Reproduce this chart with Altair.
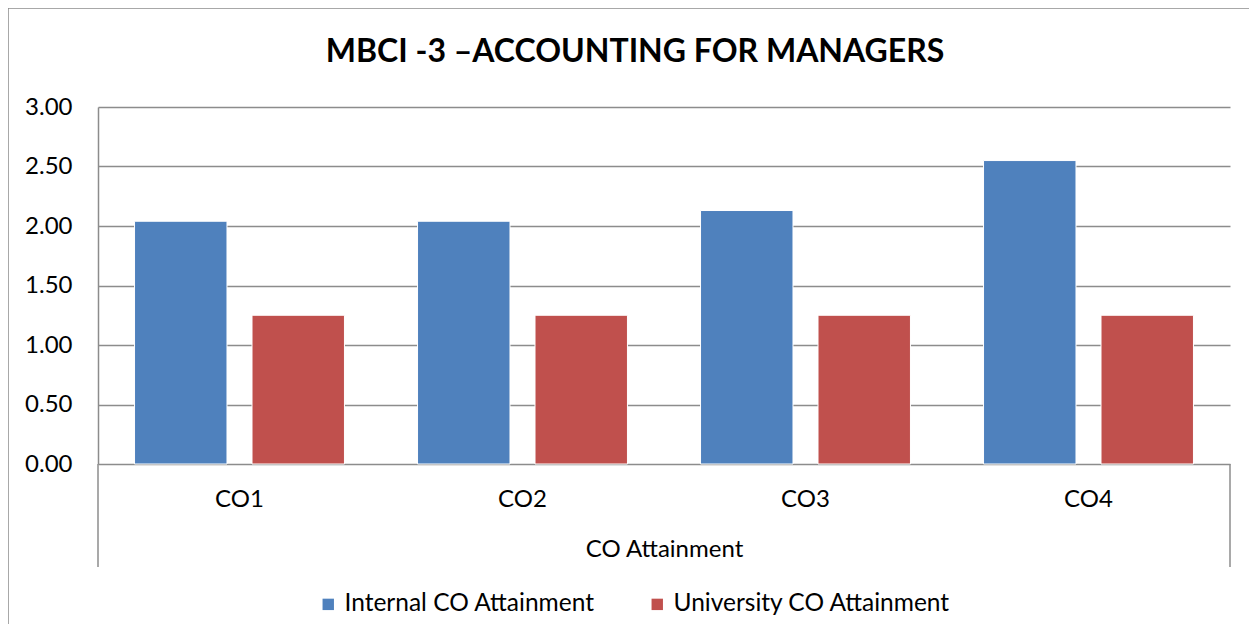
import altair as alt
import pandas as pd

categories = ["CO1", "CO2", "CO3", "CO4"]
internal = [2.04, 2.04, 2.13, 2.55]
university = [1.25, 1.25, 1.25, 1.25]
series = ["Internal CO Attainment", "University CO Attainment"]
colors = ["#4F81BD", "#C0504D"]
y_ticks = [0.0, 0.5, 1.0, 1.5, 2.0, 2.5, 3.0]
title_text = ["MBCI -3 \u2013ACCOUNTING FOR MANAGERS"]

rows = []
for c, a, b in zip(categories, internal, university):
    rows.append({"cat": c, "series": series[0], "value": a})
    rows.append({"cat": c, "series": series[1], "value": b})
df = pd.DataFrame(rows)

W, H = 1132, 357
FONT = "Lato"
GRID = "#8C8C8C"
FS = 24

bars = alt.Chart(df).mark_bar(stroke="#FFFFFF", strokeWidth=1).encode(
    x=alt.X("cat:N", sort=categories,
            scale=alt.Scale(paddingInner=0, paddingOuter=0),
            axis=alt.Axis(title="CO Attainment", labelAngle=0, domain=False, ticks=False,
                          labelPadding=23, labelFontSize=FS, labelFont=FONT, labelColor="#000000",
                          titleFontSize=FS, titleFont=FONT, titleFontWeight="normal",
                          titleColor="#000000", titlePadding=26)),
    xOffset=alt.XOffset("series:N", sort=series,
                        scale=alt.Scale(paddingInner=0.213, paddingOuter=0.311)),
    y=alt.Y("value:Q", scale=alt.Scale(domain=[0, 3], nice=False),
            axis=alt.Axis(title=None, values=y_ticks, format=".2f", grid=True,
                          gridColor=GRID, gridWidth=1.5, domainColor=GRID, domainWidth=1.5,
                          ticks=False, labelPadding=26, labelFontSize=FS, labelFont=FONT,
                          labelColor="#000000")),
    color=alt.Color("series:N", sort=series,
                    scale=alt.Scale(domain=series, range=colors),
                    legend=alt.Legend(title=None, orient="none", direction="horizontal",
                                      legendX=218, legendY=485, symbolType="square",
                                      symbolSize=130, symbolStrokeWidth=0, labelFontSize=24.5,
                                      labelFont=FONT, labelColor="#000000", columnPadding=50,
                                      labelOffset=4, labelLimit=0)),
)

one = pd.DataFrame({"k": [0]})
tdf = pd.DataFrame({"t": title_text})
title = alt.Chart(tdf).mark_text(font=FONT, fontSize=32, fontWeight="bold", color="#000000",
                                 align="center", baseline="alphabetic").encode(
    text="t:N", x=alt.value(537), y=alt.value(-45))
edge_left = alt.Chart(one).mark_rule(color=GRID, strokeWidth=1.5).encode(
    x=alt.value(0), y=alt.value(H), y2=alt.value(H + 103))
edge_right = alt.Chart(one).mark_rule(color=GRID, strokeWidth=1.5).encode(
    x=alt.value(W), y=alt.value(H), y2=alt.value(H + 103))
border = alt.Chart(one).mark_rect(fill=None, stroke="#8C8C8C", strokeWidth=1.5).encode(
    x=alt.value(-90), y=alt.value(-99), x2=alt.value(W + 60), y2=alt.value(H + 200))

chart = alt.layer(border, bars, edge_left, edge_right, title).properties(
    width=W, height=H,
    autosize=alt.AutoSizeParams(type="none"),
    padding={"left": 90, "top": 99, "right": 19, "bottom": 160},
).configure_view(stroke=None)

chart.save("out.html", embed_options={"renderer": "svg", "actions": False})
